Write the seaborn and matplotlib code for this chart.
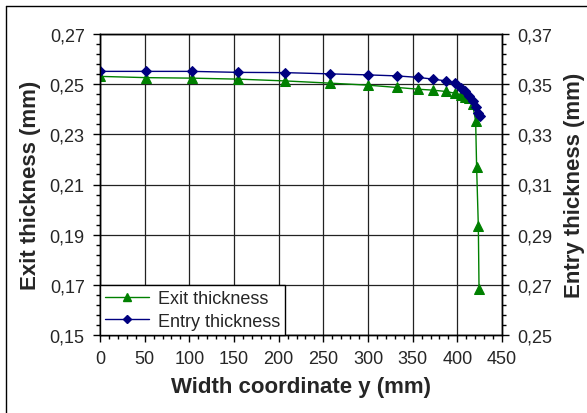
import matplotlib
matplotlib.use("Agg")
import matplotlib.pyplot as plt
import matplotlib.ticker as mticker
from matplotlib.lines import Line2D
import pandas as pd
import seaborn as sns

# Data (width coordinate in mm, thickness in mm)
y_exit = [0, 52, 103, 155, 207, 258, 300, 332, 356, 373, 387, 397, 404, 409,
          413, 417, 420.5, 421.6, 423.5, 424.3]
exit_thickness = [0.2531, 0.2526, 0.2524, 0.2520, 0.2513, 0.2504, 0.2496, 0.2487,
                  0.2480, 0.2476, 0.2471, 0.2464, 0.2457, 0.2450, 0.2443, 0.2420,
                  0.2354, 0.2168, 0.1935, 0.1683]

y_entry = [0, 52, 103, 155, 207, 258, 300, 332, 356, 373, 387, 397, 404, 409,
           413, 417, 421, 423.5, 425.4]
entry_thickness = [0.3551, 0.3551, 0.3551, 0.3547, 0.3546, 0.3541, 0.3537, 0.3533,
                   0.3527, 0.3520, 0.3513, 0.3505, 0.3484, 0.3473, 0.3453, 0.3431,
                   0.3410, 0.3387, 0.3374]

df_exit = pd.DataFrame({"y": y_exit, "t": exit_thickness})
df_entry = pd.DataFrame({"y": y_entry, "t": entry_thickness})

sns.set_style("white")
plt.rcParams["font.family"] = ["Liberation Sans", "DejaVu Sans"]

fig = plt.figure(figsize=(5.87, 4.14), dpi=100)
ax = fig.add_axes([100 / 587, 1 - 336 / 414, 402 / 587, 301 / 414])
ax2 = ax.twinx()

sns.lineplot(data=df_exit, x="y", y="t", ax=ax, color="#008000", marker="^",
             markersize=7, markeredgecolor="#008000", linewidth=1.0,
             sort=False, estimator=None)
sns.lineplot(data=df_entry, x="y", y="t", ax=ax2, color="#000080", marker="D",
             markersize=5, markeredgecolor="#000080", linewidth=1.0,
             sort=False, estimator=None)

comma = mticker.FuncFormatter(lambda v, p: f"{v:.2f}".replace(".", ","))

ax.set_xlim(0, 450)
ax.set_ylim(0.15, 0.27)
ax2.set_ylim(0.25, 0.37)
ax.xaxis.set_major_locator(mticker.MultipleLocator(50))
ax.xaxis.set_minor_locator(mticker.MultipleLocator(10))
for a in (ax, ax2):
    a.yaxis.set_major_locator(mticker.MultipleLocator(0.02, offset=0.01))
    a.yaxis.set_minor_locator(mticker.MultipleLocator(0.004, offset=0.01))
    a.yaxis.set_major_formatter(comma)

ax.grid(True, which="major", color="#222222", linewidth=0.9)
ax.set_axisbelow(True)

ax.tick_params(axis="both", which="major", direction="out", length=5, width=1,
               labelsize=13, color="black", pad=6)
ax.tick_params(axis="both", which="minor", direction="out", length=3, width=1,
               color="black")
ax.tick_params(axis="x", bottom=True, which="both")
ax.tick_params(axis="y", left=True, which="both")
ax2.tick_params(axis="y", which="major", direction="out", length=5, width=1,
                labelsize=13, color="black", right=True, pad=6)
ax2.tick_params(axis="y", which="minor", direction="out", length=3, width=1,
                right=True, color="black")

for a in (ax, ax2):
    for s in a.spines.values():
        s.set_color("black")
        s.set_linewidth(1.0)

ax.set_xlabel("Width coordinate y (mm)", fontsize=16, fontweight="bold", labelpad=6)
ax.set_ylabel("Exit thickness (mm)", fontsize=16, fontweight="bold", labelpad=6)
ax2.set_ylabel("Entry thickness (mm)", fontsize=16, fontweight="bold", labelpad=8)

handles = [
    Line2D([], [], color="#008000", marker="^", markersize=6, linewidth=1.0),
    Line2D([], [], color="#000080", marker="D", markersize=4, linewidth=1.0),
]
leg = ax2.legend(handles, ["Exit thickness", "Entry thickness"], loc="lower left",
                 fontsize=13, frameon=True, fancybox=False, borderaxespad=0.0,
                 handlelength=2.4, borderpad=0.3, labelspacing=0.3,
                 handletextpad=0.5)
leg.get_frame().set_edgecolor("black")
leg.get_frame().set_linewidth(1.0)
leg.get_frame().set_alpha(1)

# outer border (left and top edges visible)
fig.add_artist(Line2D([6 / 587, 6 / 587], [0, 1 - 7 / 414], color="black",
                      linewidth=1.0, transform=fig.transFigure))
fig.add_artist(Line2D([6 / 587, 1], [1 - 7 / 414, 1 - 7 / 414], color="black",
                      linewidth=1.0, transform=fig.transFigure))

fig.savefig("out.png", dpi=100)
